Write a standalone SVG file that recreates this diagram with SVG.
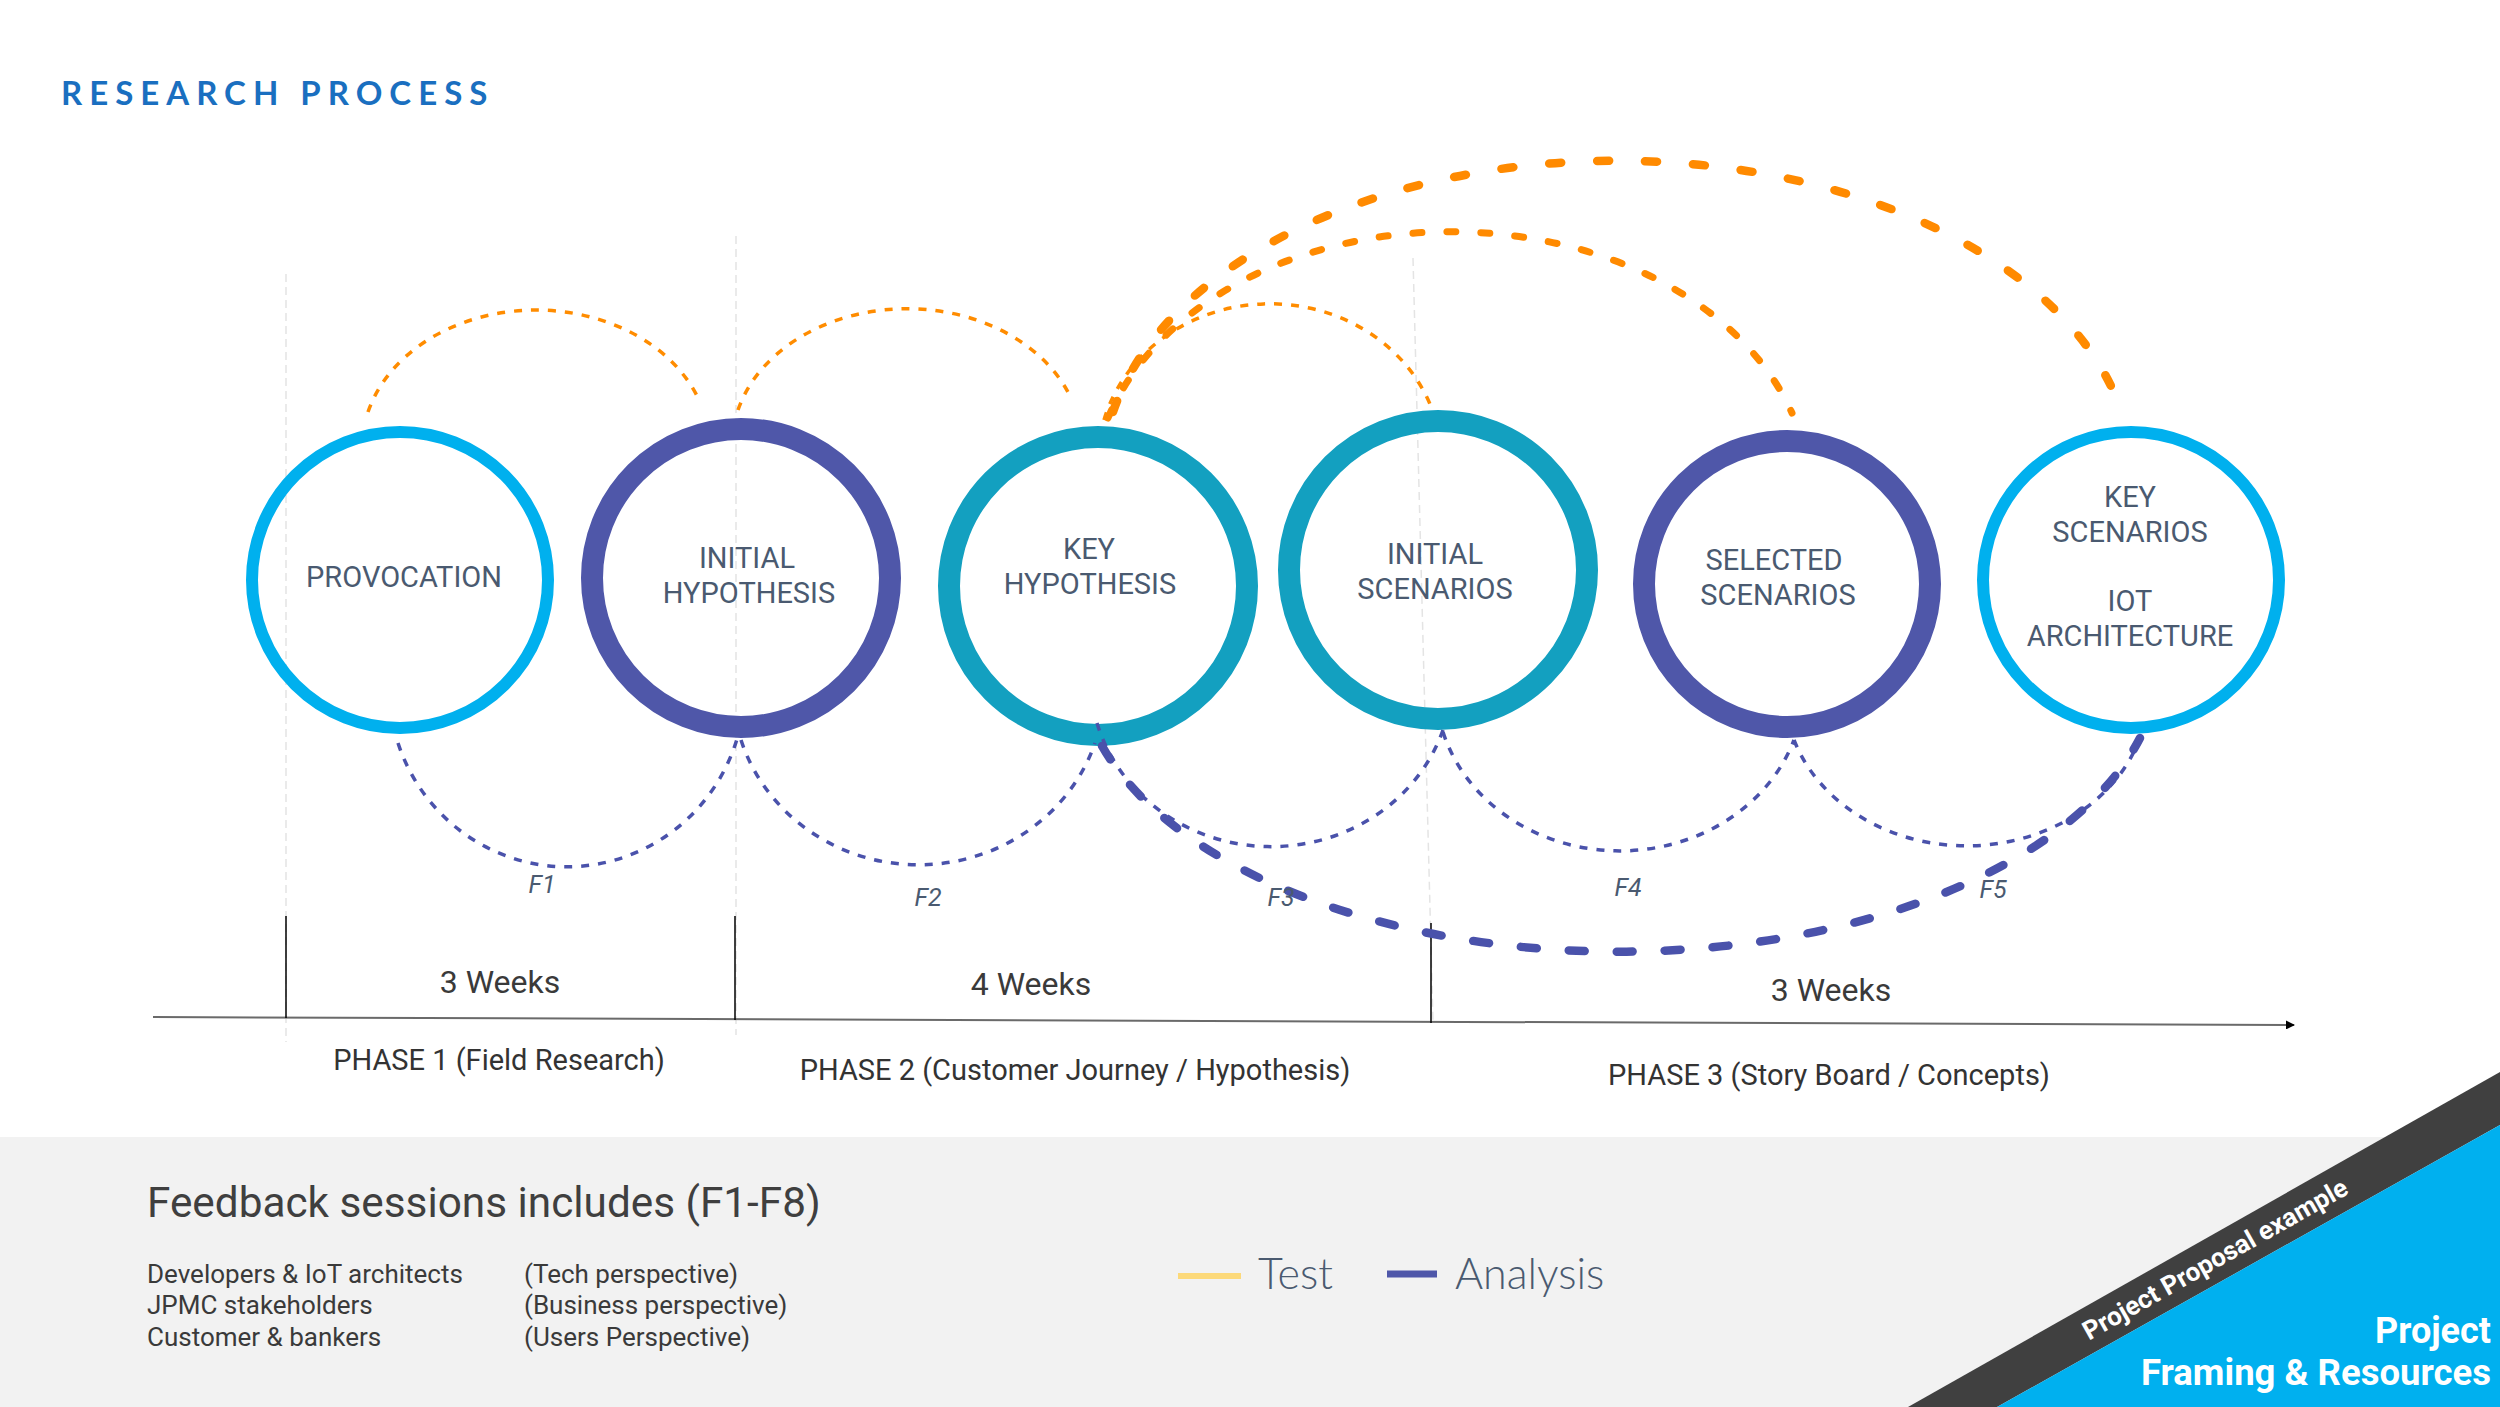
<svg xmlns="http://www.w3.org/2000/svg" width="2500" height="1407" viewBox="0 0 2500 1407">
<defs>
<style>
.ring{fill:none}
.cyan{stroke:#00b0ee;stroke-width:12}
.purple{stroke:#4f57a9;stroke-width:22}
.teal{stroke:#13a0c0;stroke-width:22}
.lbl{font-family:Roboto,"Liberation Sans",sans-serif;font-size:29px;fill:#4a5a70;text-anchor:middle}
.guide{stroke:#e4e4e4;stroke-width:1.5;stroke-dasharray:8 5;fill:none}
.tick{stroke:#000;stroke-width:1.5}
.wk{font-family:Roboto,"Liberation Sans",sans-serif;font-size:32px;fill:#3a3a3a;text-anchor:middle}
.ph{font-family:Roboto,"Liberation Sans",sans-serif;font-size:29px;fill:#333;text-anchor:middle}
.fl{font-family:Roboto,"Liberation Sans",sans-serif;font-size:25px;font-style:italic;fill:#4a5a70;text-anchor:middle}
.or-thin{fill:none;stroke:#ff8c00;stroke-width:3.5;stroke-dasharray:8 9}
.or-thick{fill:none;stroke:#ff8a00;stroke-width:7;stroke-linecap:round;stroke-dasharray:9 25}
.or-thick2{fill:none;stroke:#ff8a00;stroke-width:8.5;stroke-linecap:round;stroke-dasharray:12 36}
.pu-thin{fill:none;stroke:#4a52ab;stroke-width:3.5;stroke-dasharray:8 9}
.pu-thick{fill:none;stroke:#4a52ab;stroke-width:8.5;stroke-linecap:round;stroke-dasharray:16 32}
.body{font-family:Roboto,"Liberation Sans",sans-serif;font-size:26px;fill:#3a3a3a}
.leg{font-family:Lato,"Liberation Sans",sans-serif;font-size:43px;font-weight:300;fill:#4a5a70}
</style>
<marker id="arrow" markerUnits="userSpaceOnUse" markerWidth="9" markerHeight="9" refX="8" refY="4.5" orient="auto">
<path d="M0,0 L9,4.5 L0,9 z" fill="#000"/>
</marker>
</defs>
<rect x="0" y="0" width="2500" height="1407" fill="#fff"/>

<g id="title">
<text x="61" y="105" font-family="Lato,'Liberation Sans',sans-serif" font-size="33" font-weight="bold" letter-spacing="7" fill="#1a6fc0">RESEARCH PROCESS</text>
</g>

<g id="guides">
<line class="guide" x1="286" y1="274" x2="286" y2="1042"/>
<line class="guide" x1="736" y1="236" x2="736" y2="1035"/>
<line class="guide" x1="1413" y1="258" x2="1433" y2="1023"/>
</g>

<g id="timeline">
<line x1="153" y1="1017" x2="2294" y2="1025" stroke="#6a6a6a" stroke-width="2" marker-end="url(#arrow)"/>
<line class="tick" x1="286" y1="916" x2="286" y2="1018"/>
<line class="tick" x1="735" y1="916" x2="735" y2="1020"/>
<line class="tick" x1="1431" y1="923" x2="1431" y2="1023"/>
<text class="wk" x="500" y="993">3 Weeks</text>
<text class="wk" x="1031" y="995">4 Weeks</text>
<text class="wk" x="1831" y="1001">3 Weeks</text>
<text class="ph" x="499" y="1070">PHASE 1 (Field Research)</text>
<text class="ph" x="1075" y="1080">PHASE 2 (Customer Journey / Hypothesis)</text>
<text class="ph" x="1829" y="1085">PHASE 3 (Story Board / Concepts)</text>
</g>

<g id="node-provocation">
<circle class="ring cyan" cx="400" cy="580" r="148"/>
<text class="lbl" x="404" y="587">PROVOCATION</text>
</g>
<g id="node-initial-hypothesis">
<circle class="ring purple" cx="741" cy="578" r="149"/>
<text class="lbl" x="747" y="568">INITIAL</text>
<text class="lbl" x="749" y="603">HYPOTHESIS</text>
</g>
<g id="node-key-hypothesis">
<circle class="ring teal" cx="1098" cy="586" r="149"/>
<text class="lbl" x="1089" y="559">KEY</text>
<text class="lbl" x="1090" y="594">HYPOTHESIS</text>
</g>
<g id="node-initial-scenarios">
<circle class="ring teal" cx="1438" cy="570" r="149"/>
<text class="lbl" x="1435" y="564">INITIAL</text>
<text class="lbl" x="1435" y="599">SCENARIOS</text>
</g>
<g id="node-selected-scenarios">
<circle class="ring purple" cx="1787" cy="584" r="143"/>
<text class="lbl" x="1774" y="570">SELECTED</text>
<text class="lbl" x="1778" y="605">SCENARIOS</text>
</g>
<g id="node-key-scenarios">
<circle class="ring cyan" cx="2131" cy="580" r="148"/>
<text class="lbl" x="2130" y="507">KEY</text>
<text class="lbl" x="2130" y="542">SCENARIOS</text>
<text class="lbl" x="2130" y="611">IOT</text>
<text class="lbl" x="2130" y="646">ARCHITECTURE</text>
</g>

<g id="connectors">
<path class="or-thin" d="M368 412 A174 138 0 0 1 700 402"/>
<path class="or-thin" d="M738 410 A175 137 0 0 1 1071 398"/>
<path class="or-thin" d="M1104 420 A172 158 0 0 1 1432 409"/>
<path class="or-thick" d="M1108 418 A359 264 0 0 1 1792 413"/>
<path class="or-thick2" d="M1113 412 A515 315 0 0 1 2122 413"/>
<path class="pu-thin" d="M398 743 A178 181 0 0 0 737 739"/>
<path class="pu-thin" d="M741 740 A186 178 0 0 0 1095 743"/>
<path class="pu-thin" d="M1097 723 A181 170 0 0 0 1443 730"/>
<path class="pu-thin" d="M1443 732 A184 164 0 0 0 1794 740"/>
<path class="pu-thin" d="M1794 740 A182 155 0 0 0 2140 738"/>
<path class="pu-thick" d="M1102 746 A541 292 0 0 0 2140 738"/>
</g>

<g id="feedback-labels">
<text class="fl" x="542" y="893">F1</text>
<text class="fl" x="928" y="906">F2</text>
<text class="fl" x="1281" y="906">F3</text>
<text class="fl" x="1628" y="896">F4</text>
<text class="fl" x="1993" y="898">F5</text>
</g>

<g id="panel">
<rect x="0" y="1137" width="2500" height="270" fill="#f2f2f2"/>
<text x="147" y="1217" font-family="Roboto,'Liberation Sans',sans-serif" font-size="42.3" fill="#3f3f3f">Feedback sessions includes (F1-F8)</text>
<text class="body" x="147" y="1283">Developers &amp; IoT architects</text>
<text class="body" x="147" y="1314">JPMC stakeholders</text>
<text class="body" x="147" y="1346">Customer &amp; bankers</text>
<text class="body" x="524" y="1283">(Tech perspective)</text>
<text class="body" x="524" y="1314">(Business perspective)</text>
<text class="body" x="524" y="1346">(Users Perspective)</text>
</g>

<g id="legend">
<line x1="1178" y1="1276" x2="1241" y2="1276" stroke="#fcd97a" stroke-width="6"/>
<text class="leg" x="1258" y="1289">Test</text>
<line x1="1387" y1="1274" x2="1437" y2="1274" stroke="#4f57a9" stroke-width="7"/>
<text class="leg" x="1455" y="1289">Analysis</text>
</g>

<g id="corner">
<polygon points="1908,1407 2500,1072 2500,1125 1997,1407" fill="#404040"/>
<polygon points="1997,1407 2500,1125 2500,1407" fill="#00b0ef"/>
<text transform="translate(2215,1259) rotate(-29.5)" x="0" y="9" text-anchor="middle" font-family="Roboto,'Liberation Sans',sans-serif" font-size="26" font-weight="bold" fill="#fff">Project Proposal example</text>
<text x="2491" y="1343" text-anchor="end" font-family="Roboto,'Liberation Sans',sans-serif" font-size="36" font-weight="bold" fill="#fff">Project</text>
<text x="2491" y="1385" text-anchor="end" font-family="Roboto,'Liberation Sans',sans-serif" font-size="36.5" font-weight="bold" fill="#fff">Framing &amp; Resources</text>
</g>
</svg>
